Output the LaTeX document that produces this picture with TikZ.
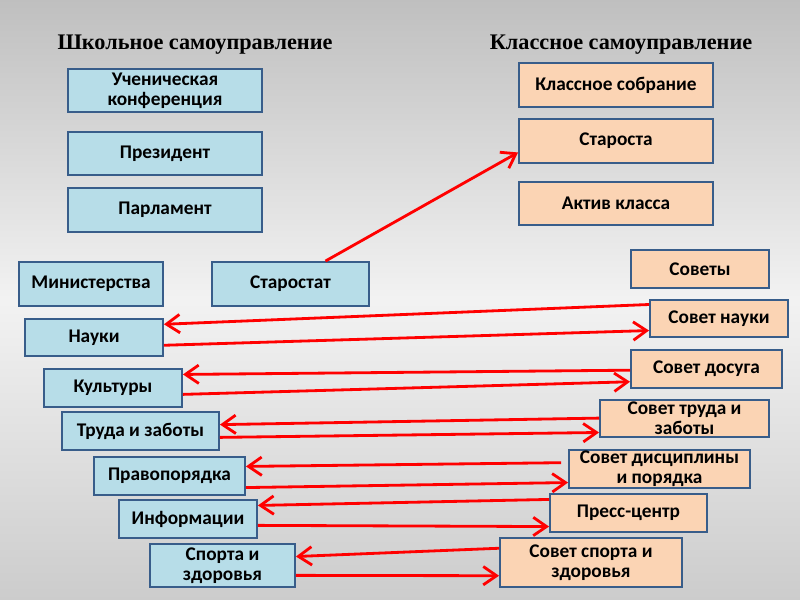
\documentclass[tikz,border=0pt]{standalone}
\usepackage{fontspec}
\setmainfont{Carlito}
\newfontfamily\titlefont{Liberation Serif}
\usetikzlibrary{calc,arrows.meta}
\definecolor{bleu}{RGB}{183,221,232}
\definecolor{peche}{RGB}{251,212,180}
\definecolor{bord}{RGB}{56,93,138}
\definecolor{rouge}{RGB}{255,0,0}
\tikzset{
    boite/.style={draw=bord,line width=1.6pt,align=center,inner sep=0pt,
      font=\fontsize{16.5}{17}\selectfont\bfseries},
    gauche/.style={boite,fill=bleu},
    droite/.style={boite,fill=peche},
    taille/.style 2 args={minimum width=#1*0.03cm,minimum height=#2*0.03cm},
    fleche/.style={draw=rouge,line width=2.4pt,-{Straight Barb[length=4mm,width=5.5mm,line width=2.4pt]}},
    titre/.style={font=\titlefont\fontsize{19}{21}\selectfont\bfseries},
  }

\begin{document}
\begin{tikzpicture}[x=0.03cm,y=-0.03cm]
				  %fond
				  \useasboundingbox (0,0) rectangle (800,600);
				  \shade[top color=gray!50,bottom color=gray!40,middle color=gray!10] (0,0) rectangle (800,600);
				  %titres
				  \node[titre] (tecole) at (195,45) {Школьное самоуправление};
				  \node[titre] (tclasse) at (621,45) {Классное самоуправление};
				  %colonne gauche
				  \node[gauche,taille={194}{43}] (conf) at (165,90.5) {Ученическая\\конференция};
				  \node[gauche,taille={194}{43}] (pres) at (165,153.5) {Президент};
				  \node[gauche,taille={194}{44}] (parl) at (165,210) {Парламент};
				  \node[gauche,taille={144}{44}] (min) at (91,284) {Министерства};
				  \node[gauche,taille={157}{44}] (stat) at (290.5,284) {Старостат};
				  \node[gauche,taille={138}{37}] (nauki) at (94,337.5) {Науки};
				  \node[gauche,taille={138}{38}] (kult) at (113,388) {Культуры};
				  \node[gauche,taille={157}{38}] (trud) at (140.5,431) {Труда и заботы};
				  \node[gauche,taille={151}{38}] (prav) at (169.5,476) {Правопорядка};
				  \node[gauche,taille={138}{38}] (info) at (188,519) {Информации};
				  \node[gauche,taille={145}{43}] (sport) at (222.5,565.5) {Спорта и\\здоровья};
				  %colonne droite
				  \node[droite,taille={194}{44}] (sobr) at (616,85) {Классное собрание};
				  \node[droite,taille={194}{44}] (starosta) at (616,141) {Староста};
				  \node[droite,taille={194}{43}] (aktiv) at (616,203.5) {Актив класса};
				  \node[droite,taille={138}{38}] (sovety) at (700,269) {Советы};
				  \node[droite,taille={138}{37}] (snauki) at (719,318.5) {Совет науки};
				  \node[droite,taille={151}{38}] (sdosug) at (706.5,369) {Совет досуга};
				  \node[droite,taille={169}{37}] (strud) at (684.5,418.5) {Совет труда и\\заботы};
				  \node[droite,taille={181}{38}] (sdisc) at (659.5,469) {Совет дисциплины\\и порядка};
				  \node[droite,taille={157}{38}] (press) at (628.5,513) {Пресс-центр};
				  \node[droite,taille={182}{49}] (ssport) at (591,562.5) {Совет спорта и\\здоровья};
				  %fleches
				  \draw[fleche] ($(stat.north west)!.72!(stat.north east)$) -- ($(starosta.north west)!.75!(starosta.south west)$);
				  \draw[fleche] ($(snauki.north west)!.14!(snauki.south west)$) -- ($(nauki.north east)!.16!(nauki.south east)$);
				  \draw[fleche] ($(nauki.north east)!.7!(nauki.south east)$) -- ($(snauki.north west)!.81!(snauki.south west)$);
				  \draw[fleche] ($(sdosug.north west)!.53!(sdosug.south west)$) -- ($(kult.north east)!.16!(kult.south east)$);
				  \draw[fleche] ($(kult.north east)!.66!(kult.south east)$) -- ($(sdosug.north west)!.82!(sdosug.south west)$);
				  \draw[fleche] ($(strud.north west)!.49!(strud.south west)$) -- ($(trud.north east)!.34!(trud.south east)$);
				  \draw[fleche] ($(trud.north east)!.66!(trud.south east)$) -- ($(strud.north west)!.86!(strud.south west)$);
				  \draw[fleche,shorten <=6] ($(sdisc.north west)!.34!(sdisc.south west)$) -- ($(prav.north east)!.26!(prav.south east)$);
				  \draw[fleche] ($(prav.north east)!.79!(prav.south east)$) -- ($(sdisc.north west)!.84!(sdisc.south west)$);
				  \draw[fleche] ($(press.north west)!.16!(press.south west)$) -- ($(info.north east)!.16!(info.south east)$);
				  \draw[fleche] ($(info.north east)!.66!(info.south east)$) -- ($(press.north west)!.84!(press.south west)$);
				  \draw[fleche] ($(ssport.north west)!.22!(ssport.south west)$) -- ($(sport.north east)!.3!(sport.south east)$);
				  \draw[fleche] ($(sport.north east)!.72!(sport.south east)$) -- ($(ssport.north west)!.76!(ssport.south west)$);
				  \end{tikzpicture}
\end{document}
